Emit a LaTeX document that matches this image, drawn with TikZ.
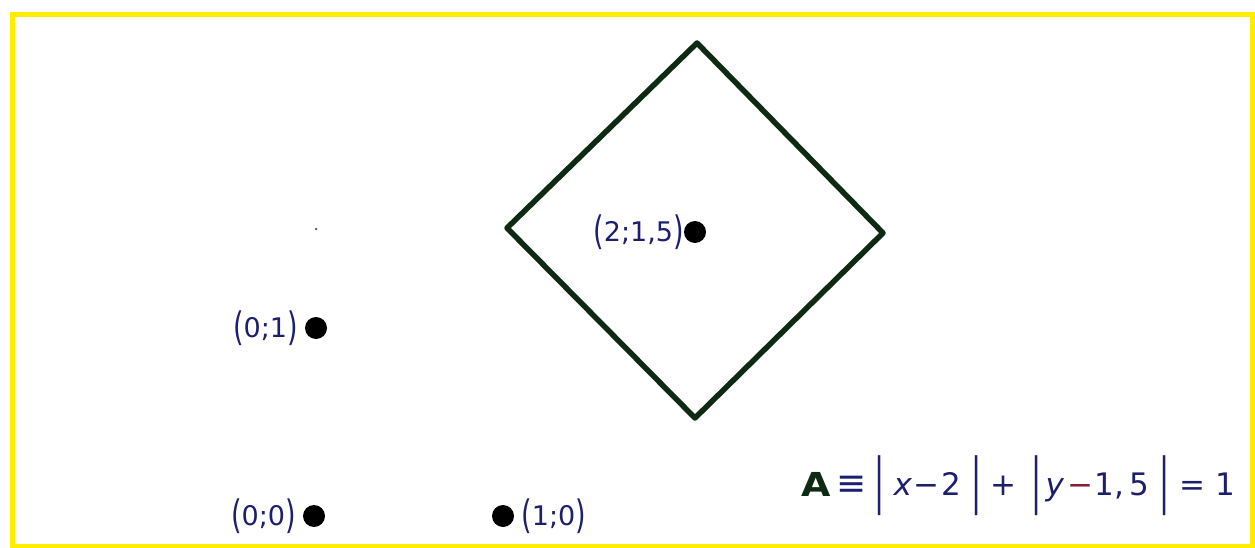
\documentclass[tikz,border=0pt]{standalone}
\usepackage{fontspec}
\setmainfont{DejaVu Sans}
\definecolor{ink}{HTML}{1C1F6E}
\definecolor{frameyellow}{HTML}{FFEE00}
\definecolor{edgecol}{HTML}{0E2A12}
\definecolor{redink}{HTML}{8A1E3A}
\newcommand{\tallp}[1]{\raisebox{-0.12em}{\scalebox{1}[1.45]{#1}}}
\tikzset{
  lbl/.style={text=ink, font=\fontsize{27}{30}\selectfont, inner sep=0pt},
  ptdot/.style={circle, fill=black, inner sep=0pt, minimum size=22pt},
  eqtok/.style={text=ink, font=\fontsize{31}{34}\selectfont, inner sep=0pt, anchor=base},
  eqbar/.style={text=ink, font=\fontsize{30}{34}\selectfont, inner sep=0pt, anchor=center},
  frame/.style={draw=frameyellow, line width=5pt},
  rhomb/.style={draw=edgecol, line width=5.5pt, line join=round}
}
\begin{document}
\begin{tikzpicture}[x=1pt,y=-1pt]
\useasboundingbox (0,0) rectangle (1255,548);
\draw[frame] (12,15) rectangle (1252,546);

% diamond |x-2|+|y-1.5|=1
\coordinate (T) at (697,43);
\coordinate (R) at (883,233);
\coordinate (B) at (695,418);
\coordinate (L) at (507,228);
\draw[rhomb] (T) -- (R) -- (B) -- (L) -- cycle;

% points
\node[ptdot] (c) at (695,232) {};
\node[lbl, anchor=east] (cl) at ([xshift=0pt]c.west) {\tallp{(}2;1,5\tallp{)}};

\node[ptdot] (p01) at (316,328) {};
\node[lbl, anchor=east] (p01l) at ([xshift=-7pt]p01.west) {\tallp{(}0;1\tallp{)}};

\node[ptdot] (p00) at (314,516) {};
\node[lbl, anchor=east] (p00l) at ([xshift=-7pt]p00.west) {\tallp{(}0;0\tallp{)}};

\node[ptdot] (p10) at (503,516) {};
\node[lbl, anchor=west] (p10l) at ([xshift=7pt]p10.east) {\tallp{(}1;0\tallp{)}};

\node[circle, fill=black!70, inner sep=0pt, minimum size=2.5pt] (speck) at (316,229) {};

% equation
\node[eqtok, text=edgecol, font=\fontsize{33}{36}\selectfont\bfseries] (eA) at (816,496) {\scalebox{1.15}[1]{A}};
\node[eqtok, font=\fontsize{36}{38}\selectfont] (eequiv) at (852,495) {≡};
\node[eqbar] (b1) at (880,486) {\scalebox{1}[2.0]{|}};
\node[eqtok] (ex) at (903,495) {\textit{x}};
\node[eqtok] (em1) at (926,495) {−};
\node[eqtok] (e2) at (951,495) {2};
\node[eqbar] (b2) at (977,486) {\scalebox{1}[2.0]{|}};
\node[eqtok] (eplus) at (1003,495) {+};
\node[eqbar] (b3) at (1037,486) {\scalebox{1}[2.0]{|}};
\node[eqtok] (ey) at (1055,495) {\textit{y}};
\node[eqtok, text=redink] (em2) at (1080,495) {−};
\node[eqtok] (e15) at (1122,495) {1,\,5};
\node[eqbar] (b4) at (1165,486) {\scalebox{1}[2.0]{|}};
\node[eqtok] (eeq) at (1192,495) {=};
\node[eqtok] (e1) at (1225,495) {1};
\end{tikzpicture}
\end{document}
